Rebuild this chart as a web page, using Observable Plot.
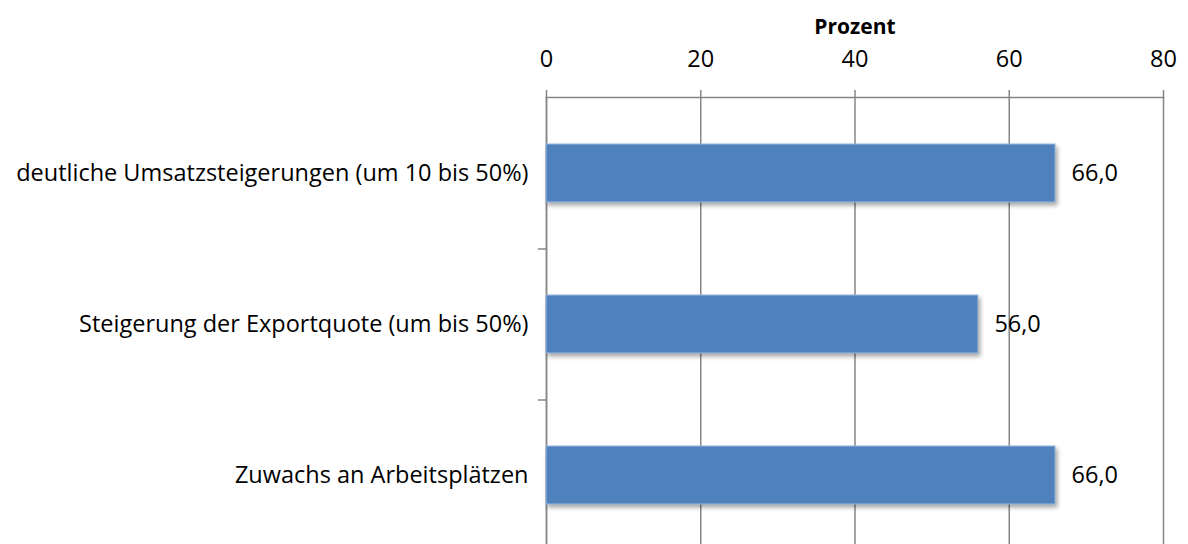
<!DOCTYPE html>
<html>
<head>
<meta charset="utf-8">
<script src="https://cdn.jsdelivr.net/npm/d3@7"></script>
<script src="https://cdn.jsdelivr.net/npm/@observablehq/plot@0.6"></script>
<style>
  html, body { margin: 0; padding: 0; background: #fff; overflow: hidden; }
  #chart svg { display: block; }
  #chart g[aria-label="bar"] rect { filter: drop-shadow(2px 3px 2px rgba(0,0,0,0.35)); }
</style>
</head>
<body>
<div id="chart"></div>
<script>
const categories = [
  "deutliche Umsatzsteigerungen (um 10 bis 50%)",
  "Steigerung der Exportquote (um bis 50%)",
  "Zuwachs an Arbeitsplätzen"
];
const values = [66.0, 56.0, 66.0];
const xTicks = [0, 20, 40, 60, 80];
const axisTitle = ["Prozent"];

const data = categories.map((c, i) => ({category: c, value: values[i]}));
const fmt = v => v.toFixed(1).replace(".", ",");
const font = "'Open Sans', Lato, sans-serif";
const fs = 23.5;

const chart = Plot.plot({
  width: 1188,
  height: 550,
  marginLeft: 546,
  marginRight: 25,
  marginTop: 97,
  marginBottom: 0,
  style: {fontFamily: font, fontSize: fs + "px", color: "#000", background: "#fff"},
  x: {domain: [0, 80], ticks: xTicks},
  y: {domain: categories, paddingInner: 0.616, paddingOuter: 0.308},
  marks: [
    Plot.gridX(xTicks, {stroke: "#868686", strokeOpacity: 1, strokeWidth: 1.5}),
    Plot.ruleX([0], {stroke: "#868686", strokeWidth: 1.5}),
    Plot.frame({anchor: "top", stroke: "#868686", strokeWidth: 1.5}),
    Plot.axisX(xTicks, {anchor: "top", tickSize: 8, tickPadding: 23, stroke: "#868686", strokeWidth: 1.5, label: null, fontSize: fs, fill: "#000"}),
    Plot.text(axisTitle, {frameAnchor: "top", dy: -78, text: d => d, fontWeight: "bold", fontSize: 21, fill: "#000"}),
    Plot.axisY({tickSize: 0, tickPadding: 18, label: null, fontSize: fs, fill: "#000"}),
    Plot.axisY({tickSize: 8, text: null, dy: 75.5, stroke: "#868686", strokeWidth: 1.5, label: null}),
    Plot.barX(data, {x: "value", y: "category", fill: "#4F81BD", stroke: "#9BB8DE", strokeWidth: 1}),
    Plot.text(data, {x: "value", y: "category", text: d => fmt(d.value), textAnchor: "start", dx: 16, fontSize: fs, fill: "#000"})
  ]
});
document.getElementById("chart").append(chart);
</script>
</body>
</html>
